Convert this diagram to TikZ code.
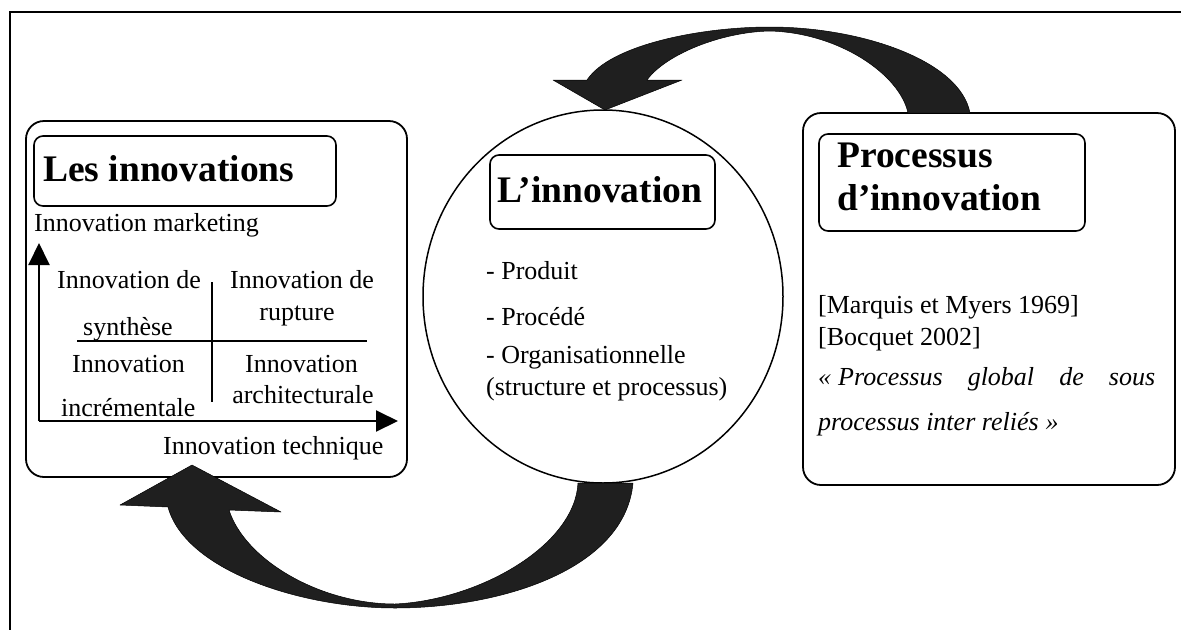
\documentclass[tikz,border=0pt]{standalone}
\usepackage{fontspec}
\setmainfont{Liberation Serif}
\usetikzlibrary{arrows.meta,shapes.geometric}
\begin{document}
\begin{tikzpicture}[x=1pt,y=-1pt,
  body/.style={inner sep=0pt, font=\fontsize{26}{30}\selectfont},
  bodyw/.style={body, anchor=base west},
  bodyc/.style={body, anchor=base},
  ttl/.style={inner sep=0pt, anchor=base west, font=\fontsize{37.5}{43}\selectfont\bfseries},
  bigbox/.style={draw, line width=1.8pt, rounded corners=18pt, inner sep=0pt},
  titlebox/.style={draw, line width=1.6pt, rounded corners=9pt, inner sep=0pt},
  axis/.style={line width=2pt, -{Triangle[length=22pt,width=21pt]}},
  divider/.style={line width=1.6pt},
  bigarrow/.style={fill=black!88, draw=black, line width=0.5pt, line join=round}]
\useasboundingbox (0,0) rectangle (1181,630);
% outer frame (only top and left sides visible)
\coordinate (fTR) at (1181,12);
\coordinate (fTL) at (10,12);
\coordinate (fBL) at (10,630);
\draw[line width=2pt] (fTR) -- (fTL) -- (fBL);

% ---------- left box ----------
\node[bigbox, minimum width=381pt, minimum height=356pt] (lbox) at (216.5,299) {};
\node[titlebox, minimum width=302pt, minimum height=70pt] (ltitle) at (185,171) {};
\node[ttl] (ltxt) at (43,181) {Les innovations};
\node[bodyw] (mkt) at (34,231) {Innovation marketing};
\coordinate (org) at (39,421);
\coordinate (ytip) at (39,243);
\coordinate (xtip) at (398,421);
\draw[axis] (org) -- (ytip);
\draw[axis] (org) -- (xtip);
\coordinate (vdT) at (212,282);
\coordinate (vdB) at (212,402);
\coordinate (hdL) at (77,341);
\coordinate (hdR) at (367,341);
\draw[divider] (vdT) -- (vdB);
\draw[divider] (hdL) -- (hdR);
\node[bodyw] (q1a) at (57,288) {Innovation de};
\node[bodyc] (q1b) at (128,335) {synthèse};
\node[bodyw] (q2a) at (230,288) {Innovation de};
\node[bodyc] (q2b) at (297,320) {rupture};
\node[bodyw] (q3a) at (72,372) {Innovation};
\node[bodyw] (q3b) at (61,416) {incrémentale};
\node[bodyw] (q4a) at (245,372) {Innovation};
\node[bodyc] (q4b) at (303,403) {architecturale};
\node[bodyw] (tech) at (163,454) {Innovation technique};

% ---------- centre circle ----------
\node[draw, ellipse, line width=1.5pt, minimum width=360pt, minimum height=373pt, inner sep=0pt] (circ) at (603,296.5) {};
\node[titlebox, minimum width=225pt, minimum height=74pt] (ctitle) at (602.5,192) {};
\node[ttl] (ctxt) at (497,202) {L’innovation};
\node[bodyw] (c1) at (486,279) {- Produit};
\node[bodyw] (c2) at (486,325) {- Procédé};
\node[bodyw] (c3) at (486,363) {- Organisationnelle};
\node[bodyw] (c4) at (486,395) {(structure et processus)};

% ---------- right box ----------
\node[bigbox, minimum width=372pt, minimum height=372pt] (rbox) at (989,299) {};
\node[titlebox, minimum width=266pt, minimum height=97pt] (rtitle) at (952,182.5) {};
\node[ttl] (rtxt1) at (837,167) {Processus};
\node[ttl] (rtxt2) at (837,210) {d’innovation};
\node[bodyw] (r1) at (818,313) {[Marquis et Myers 1969]};
\node[bodyw] (r2) at (818,345) {[Bocquet 2002]};
\node[bodyw] (r3) at (818,385) {\itshape\makebox[337pt][s]{\mbox{«\kern7pt Processus} global de sous}};
\node[bodyw] (r4) at (818,430) {\itshape processus inter reliés\kern7pt »};

% ---------- top curved arrow (right box -> circle) ----------
\draw[bigarrow]
  (587,80) .. controls (610,45) and (700,27) .. (770,27)
  .. controls (860,27) and (960,60) .. (970,113)
  -- (908,113)
  .. controls (900,75) and (840,33) .. (770,31)
  .. controls (720,32) and (665,55) .. (647,80)
  -- (682,80) -- (605,110) -- (553,80) -- cycle;

% ---------- bottom curved arrow (circle -> left box) ----------
\draw[bigarrow]
  (633,483) .. controls (625,570) and (500,608) .. (395,608)
  .. controls (300,608) and (185,570) .. (168,507)
  -- (120,505) -- (192,465) -- (281,512) -- (229,510)
  .. controls (245,560) and (320,604) .. (395,604)
  .. controls (480,600) and (575,545) .. (578,483)
  -- cycle;
\end{tikzpicture}
\end{document}
